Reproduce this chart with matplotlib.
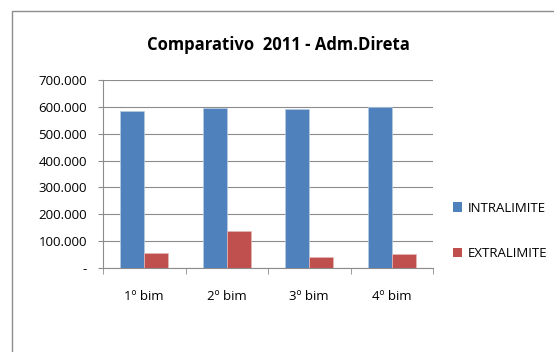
import matplotlib
matplotlib.use("Agg")
import matplotlib.pyplot as plt
from matplotlib.patches import Rectangle, Patch
from matplotlib.ticker import FuncFormatter

categories = ["1º bim", "2º bim", "3º bim", "4º bim"]
intralimite = [585000, 594000, 591000, 599000]
extralimite = [55000, 139000, 41000, 53000]
series_names = ["INTRALIMITE", "EXTRALIMITE"]
title = "Comparativo  2011 - Adm.Direta"

plt.rcParams['font.family'] = ['Open Sans', 'DejaVu Sans']

W, H = 554, 352
fig = plt.figure(figsize=(W / 100, H / 100), dpi=100)
fig.patch.set_facecolor("white")

# chart border
fig.patches.append(Rectangle((11.5 / W, -0.1), 1.2, 1 - 11 / H + 0.1, transform=fig.transFigure,
                             fill=False, edgecolor="#8c8c8c", linewidth=1.0))

ax = fig.add_axes([103 / W, 1 - 268 / H, (433 - 103) / W, (268 - 80) / H])
blue = "#4f81bd"
red = "#c0504d"
x = list(range(len(categories)))
w = 0.29
ax.bar([i - w / 2 for i in x], intralimite, width=w, color=blue, edgecolor="#b8cce4", linewidth=0.5, zorder=3)
ax.bar([i + w / 2 for i in x], extralimite, width=w, color=red, edgecolor="#e6b9b8", linewidth=0.5, zorder=3)

ax.set_xlim(-0.5, len(categories) - 0.5)
ax.set_ylim(0, 700000)
ax.set_yticks(range(0, 700001, 100000))

def fmt(v, pos):
    if v == 0:
        return "-"
    return f"{int(v):,}".replace(",", ".")
ax.yaxis.set_major_formatter(FuncFormatter(fmt))

ax.set_xticks(x)
ax.set_xticklabels(categories)
ax.set_xticks([i - 0.5 for i in range(len(categories) + 1)], minor=True)
ax.tick_params(axis="x", which="major", length=0, pad=16, labelsize=9.5)
ax.tick_params(axis="x", which="minor", length=4, color="#8c8c8c", direction="out")
ax.tick_params(axis="y", length=3.5, color="#8c8c8c", direction="out", pad=8, labelsize=9.5)

ax.grid(axis="y", color="#8c8c8c", linewidth=0.8, zorder=0)
for s in ["top", "right"]:
    ax.spines[s].set_visible(False)
for s in ["left", "bottom"]:
    ax.spines[s].set_color("#8c8c8c")
    ax.spines[s].set_linewidth(0.8)

fig.text(278 / W, 1 - 45 / H, title, ha="center", va="center", fontsize=12, fontweight="bold")

handles = [Patch(facecolor=blue), Patch(facecolor=red)]
leg = fig.legend(handles, series_names, loc="center left", bbox_to_anchor=(441 / W, 1 - 231 / H),
                 frameon=False, fontsize=9.5, handlelength=0.7, handleheight=0.7,
                 handletextpad=0.45, labelspacing=2.5)

fig.savefig("out.png", dpi=100)
